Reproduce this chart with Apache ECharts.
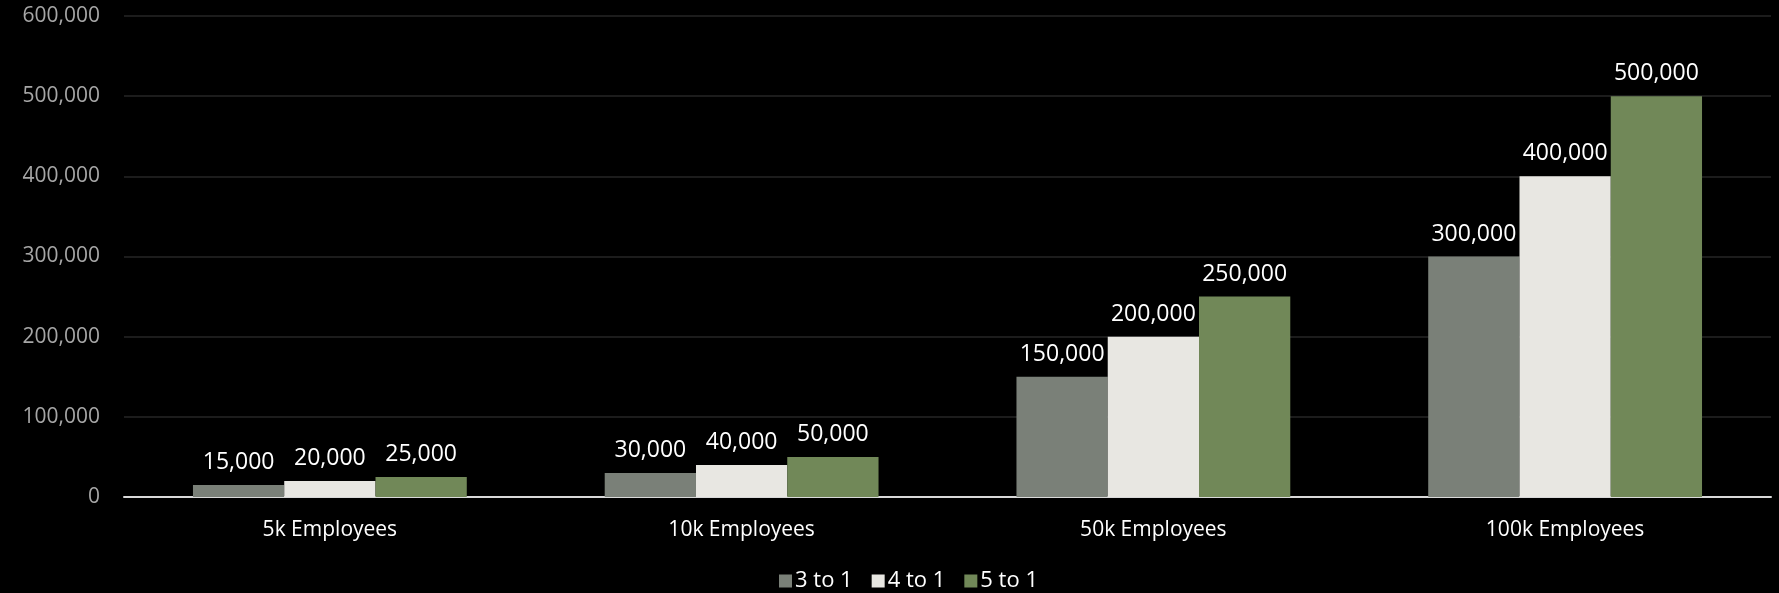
<!DOCTYPE html>
<html>
<head>
<meta charset="utf-8">
<script src="https://cdn.jsdelivr.net/npm/echarts@6/dist/echarts.min.js"></script>
<style>
  html, body { margin: 0; padding: 0; background: #000; }
  #chart { width: 1779px; height: 593px; }
</style>
</head>
<body>
<div id="chart"></div>
<script>
// 数据
const categories = ['5k Employees', '10k Employees', '50k Employees', '100k Employees'];
const ratio3 = [15000, 30000, 150000, 300000];
const ratio4 = [20000, 40000, 200000, 400000];
const ratio5 = [25000, 50000, 250000, 500000];
const seriesNames = ['3 to 1', '4 to 1', '5 to 1'];

const font = '"Open Sans", Lato, sans-serif';
const fmt = v => v.toLocaleString('en-US');

const myChart = echarts.init(document.getElementById('chart'));

function bar(name, data, color) {
  return {
    name: name,
    type: 'bar',
    data: data,
    barGap: '0%',
    barCategoryGap: '33.5%',
    itemStyle: { color: color },
    label: {
      show: true,
      position: 'top',
      color: '#fff',
      fontFamily: font,
      fontSize: 23,
      distance: 11,
      formatter: p => fmt(p.value)
    }
  };
}

myChart.setOption({
  backgroundColor: '#000',
  animation: false,
  legend: {
    bottom: -4,
    left: 774,
    itemWidth: 13,
    itemHeight: 13,
    itemGap: 19,
    icon: 'rect',
    textStyle: { color: '#fff', fontFamily: font, fontSize: 22, padding: [0, 0, 0, -2] },
    data: seriesNames
  },
  grid: {
    left: 124,
    right: 8,
    top: 16,
    bottom: 96
  },
  xAxis: {
    type: 'category',
    data: categories,
    axisLine: { lineStyle: { color: '#d9d9d9', width: 2 } },
    axisTick: { show: false },
    axisLabel: { color: '#fff', fontFamily: font, fontSize: 21, margin: 23 }
  },
  yAxis: {
    type: 'value',
    min: 0,
    max: 600000,
    interval: 100000,
    axisLine: { show: false },
    axisTick: { show: false },
    splitLine: { lineStyle: { color: '#262626', width: 1.5 } },
    axisLabel: { color: '#a6a6a6', fontFamily: font, fontSize: 21, margin: 24, formatter: v => fmt(v) }
  },
  series: [
    bar(seriesNames[0], ratio3, '#7a8078'),
    bar(seriesNames[1], ratio4, '#e8e7e2'),
    bar(seriesNames[2], ratio5, '#718858')
  ]
});
</script>
</body>
</html>
